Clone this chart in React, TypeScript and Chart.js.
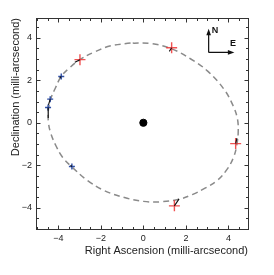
import React, { useEffect, useRef } from "react";
import { Chart, registerables } from "chart.js";

Chart.register(...registerables);

// Orbit model (dashed ellipse), in mas
const ORBIT_X = [-0.6, -1.53, -2.32, -2.98, -3.45, -3.86, -4.13, -4.36, -4.47, -4.46, -4.35, -4.11, -3.8, -3.36, -2.62, -1.84, -0.89, 0.0, 0.8, 1.68, 2.3, 2.9, 3.47, 3.95, 4.25, 4.4, 4.46, 4.42, 4.22, 3.79, 3.01, 2.23, 1.33, 0.4, -0.6];
const ORBIT_Y = [3.75, 3.62, 3.32, 2.97, 2.6, 2.18, 1.65, 1.11, 0.55, 0.0, -0.5, -1.08, -1.62, -2.08, -2.72, -3.19, -3.52, -3.7, -3.72, -3.6, -3.38, -3.08, -2.72, -2.17, -1.6, -1.0, -0.4, 0.2, 0.8, 1.58, 2.44, 3.0, 3.48, 3.72, 3.75];

// Observations
const RED_X = [-2.98, 1.33, 4.34, 1.46];
const RED_Y = [2.97, 3.53, -0.98, -3.91];
const BLUE_X = [-3.86, -4.38, -4.48, -3.36];
const BLUE_Y = [2.18, 1.11, 0.72, -2.06];

// Residual segments (model position -> observed position)
const RES_X0 = [-3.22, 1.22, 4.4, 1.68, -3.93, -4.38, -4.48, -3.42];
const RES_Y0 = [2.85, 3.36, -0.72, -3.58, 2.1, 1.11, 0.72, -2.0];
const RES_X1 = [-2.98, 1.33, 4.34, 1.46, -3.86, -4.46, -4.47, -3.36];
const RES_Y1 = [2.97, 3.53, -0.98, -3.91, 2.18, 0.84, 0.22, -2.06];

// Central star
const STAR_X = [0];
const STAR_Y = [0];

// Axes
const X_MIN = -5;
const X_MAX = 4.92;
const Y_MIN = -5;
const Y_MAX = 4.93;
const LABEL_TICKS = [-4, -2, 0, 2, 4];
const MINOR_STEP = 0.5;
const X_TITLE = "Right Ascension (milli-arcsecond)";
const Y_TITLE = "Declination (milli-arcsecond)";

// Compass (data coords)
const COMPASS_ORIGIN = [3.07, 3.31];
const COMPASS_N_TIP = 4.42;
const COMPASS_E_TIP = 4.28;

const FONT = "'Liberation Sans', Arial, Helvetica, sans-serif";

const fmt = (v: number) => (v < 0 ? "\u2212" + Math.abs(v) : String(v));

const framePlugin = {
  id: "frame",
  afterDatasetsDraw(chart: any) {
    const { ctx, chartArea, scales } = chart;
    const L = chartArea.left - 0.5;
    const R = chartArea.right + 0.5;
    const T = chartArea.top + 0.5;
    const B = chartArea.bottom + 0.5;
    ctx.save();
    ctx.strokeStyle = "#333";
    ctx.lineWidth = 1;
    ctx.strokeRect(L, T, R - L, B - T);
    const xs = scales.x;
    const ys = scales.y;
    const isMajor = (v: number) => LABEL_TICKS.some((t) => Math.abs(t - v) < 1e-6);
    ctx.beginPath();
    for (let v = Math.ceil(X_MIN / MINOR_STEP) * MINOR_STEP; v <= X_MAX + 1e-9; v += MINOR_STEP) {
      const p = Math.round(xs.getPixelForValue(v)) + 0.5;
      const len = isMajor(v) ? 4 : 2.5;
      ctx.moveTo(p, B);
      ctx.lineTo(p, B - len);
      ctx.moveTo(p, T);
      ctx.lineTo(p, T + len);
    }
    for (let v = Math.ceil(Y_MIN / MINOR_STEP) * MINOR_STEP; v <= Y_MAX + 1e-9; v += MINOR_STEP) {
      const p = Math.round(ys.getPixelForValue(v)) + 0.5;
      const len = isMajor(v) ? 4 : 2.5;
      ctx.moveTo(L, p);
      ctx.lineTo(L + len, p);
      ctx.moveTo(R, p);
      ctx.lineTo(R - len, p);
    }
    ctx.stroke();
    ctx.restore();
  },
  afterDraw(chart: any) {
    const { ctx, scales } = chart;
    const xs = scales.x;
    const ys = scales.y;
    const ox = xs.getPixelForValue(COMPASS_ORIGIN[0]);
    const oy = ys.getPixelForValue(COMPASS_ORIGIN[1]);
    const ny = ys.getPixelForValue(COMPASS_N_TIP);
    const ex = xs.getPixelForValue(COMPASS_E_TIP);
    ctx.save();
    ctx.strokeStyle = "#111";
    ctx.fillStyle = "#111";
    ctx.lineWidth = 1.2;
    ctx.beginPath();
    ctx.moveTo(ox, oy);
    ctx.lineTo(ox, ny + 5);
    ctx.moveTo(ox, oy);
    ctx.lineTo(ex - 5, oy);
    ctx.stroke();
    ctx.beginPath();
    ctx.moveTo(ox, ny);
    ctx.lineTo(ox - 2.3, ny + 6.5);
    ctx.lineTo(ox + 2.3, ny + 6.5);
    ctx.closePath();
    ctx.fill();
    ctx.beginPath();
    ctx.moveTo(ex, oy);
    ctx.lineTo(ex - 6.5, oy - 2.3);
    ctx.lineTo(ex - 6.5, oy + 2.3);
    ctx.closePath();
    ctx.fill();
    ctx.font = `bold 9px ${FONT}`;
    ctx.textBaseline = "middle";
    ctx.textAlign = "left";
    ctx.fillText("N", ox + 3, ny + 2);
    ctx.textAlign = "center";
    ctx.fillText("E", ex - 1.5, oy - 9);
    ctx.restore();
  },
};

export default function App() {
  const ref = useRef<HTMLCanvasElement>(null);
  useEffect(() => {
    document.body.style.margin = "0";
    const canvas = ref.current!;
    const zip = (xa: number[], ya: number[]) => xa.map((x, i) => ({ x, y: ya[i] }));
    const resData: any[] = [];
    RES_X0.forEach((_, i) => {
      resData.push({ x: RES_X0[i], y: RES_Y0[i] });
      resData.push({ x: RES_X1[i], y: RES_Y1[i] });
      resData.push({ x: RES_X1[i], y: null });
    });
    const chart = new Chart(canvas, {
      type: "scatter",
      data: {
        datasets: [
          {
            label: "orbit",
            data: zip(ORBIT_X, ORBIT_Y),
            showLine: true,
            tension: 0.4,
            borderColor: "#8a8a8a",
            borderWidth: 1.5,
            borderDash: [6, 4],
            pointRadius: 0,
            order: 5,
          } as any,
          {
            label: "red",
            data: zip(RED_X, RED_Y),
            pointStyle: "cross",
            pointRadius: 5.5,
            pointBorderWidth: 1.4,
            borderColor: "rgba(238,52,52,0.85)",
            backgroundColor: "rgba(238,52,52,0.85)",
            order: 4,
          },
          {
            label: "blue",
            data: zip(BLUE_X, BLUE_Y),
            pointStyle: "cross",
            pointRadius: 3,
            pointBorderWidth: 1.4,
            borderColor: "#2f4fa6",
            backgroundColor: "#2f4fa6",
            order: 3,
          },
          {
            label: "residuals",
            data: resData,
            showLine: true,
            spanGaps: false,
            borderColor: "#111",
            borderWidth: 1.1,
            pointRadius: 0,
            order: 2,
          } as any,
          {
            label: "star",
            data: zip(STAR_X, STAR_Y),
            pointRadius: 3.6,
            pointStyle: "circle",
            backgroundColor: "#000",
            borderColor: "#000",
            order: 1,
          },
        ],
      },
      options: {
        animation: false,
        responsive: false,
        maintainAspectRatio: false,
        layout: { padding: { top: 18, right: 26, left: 0, bottom: 0 } },
        plugins: { legend: { display: false }, tooltip: { enabled: false } },
        scales: {
          x: {
            type: "linear",
            min: X_MIN,
            max: X_MAX,
            grid: { display: false, drawTicks: false },
            border: { display: false },
            afterBuildTicks: (s: any) => {
              s.ticks = LABEL_TICKS.map((v) => ({ value: v }));
            },
            afterFit: (s: any) => {
              s.height = 46;
            },
            ticks: {
              padding: 4,
              color: "#222",
              font: { family: FONT, size: 9 },
              callback: (v: any) => fmt(Number(v)),
              maxRotation: 0,
              autoSkip: false,
            },
            title: {
              display: true,
              text: X_TITLE,
              align: "end",
              color: "#222",
              font: { family: FONT, size: 11 },
              padding: { top: 0, bottom: 17.5 },
            },
          },
          y: {
            type: "linear",
            min: Y_MIN,
            max: Y_MAX,
            grid: { display: false, drawTicks: false },
            border: { display: false },
            afterBuildTicks: (s: any) => {
              s.ticks = LABEL_TICKS.map((v) => ({ value: v }));
            },
            afterFit: (s: any) => {
              s.width = 37;
            },
            ticks: {
              padding: 5,
              color: "#222",
              font: { family: FONT, size: 9 },
              callback: (v: any) => fmt(Number(v)),
              autoSkip: false,
            },
            title: {
              display: true,
              text: Y_TITLE,
              align: "end",
              color: "#222",
              font: { family: FONT, size: 11 },
              padding: { top: 9.5, bottom: 0 },
            },
          },
        },
      } as any,
      plugins: [framePlugin],
    });
    return () => chart.destroy();
  }, []);
  return (
    <canvas
      ref={ref}
      width={274}
      height={275}
      style={{ display: "block", width: 274, height: 275 }}
    />
  );
}
